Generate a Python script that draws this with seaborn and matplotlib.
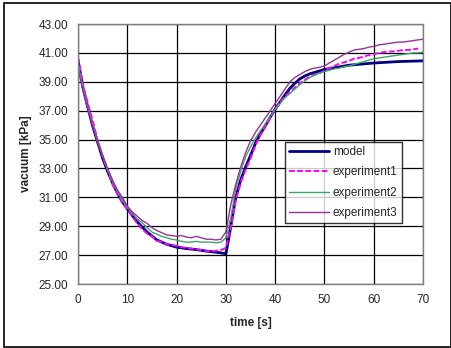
import numpy as np
import pandas as pd
import matplotlib
matplotlib.use('Agg')
import matplotlib.pyplot as plt
import seaborn as sns
from matplotlib.patches import Rectangle

###################################################################################
# Data

model_time = [0, 1, 2, 3, 4, 5, 6, 7, 8, 9,
              10, 12, 14, 16, 18, 20, 22, 24, 26, 28, 30,
              30.5, 31,
              32, 33, 34, 35, 36, 37, 38, 39, 40, 41, 42, 43, 44, 45, 46, 47, 48,
              50, 52, 55, 60, 65, 70]
model_vac = [40.5, 38.6, 37.2, 35.9, 34.8, 33.7, 32.8, 32.0, 31.3, 30.7,
             30.2, 29.3, 28.6, 28.05, 27.75, 27.55, 27.45, 27.38, 27.28, 27.2, 27.1,
             28.0, 29.0,
             31.0, 32.2, 33.1, 33.9, 34.75, 35.4, 35.95, 36.55, 37.1, 37.6, 38.1,
             38.55, 38.9, 39.2, 39.4, 39.55, 39.65,
             39.85, 39.97, 40.15, 40.3, 40.4, 40.45]

exp1_time = list(range(0, 70))
exp1_vac = [40.7, 38.8, 37.5, 36.3, 34.9, 33.8, 32.9, 31.9, 31.2, 30.6,
            30.2, 29.7, 29.2, 28.8, 28.5, 28.3, 28.0, 27.9, 27.75, 27.7,
            27.65, 27.55, 27.5, 27.45, 27.4, 27.35, 27.3, 27.25, 27.3, 27.35,
            27.5, 28.9, 30.8, 32.0, 32.9, 33.7, 34.6, 35.3, 35.9, 36.5,
            37.1, 37.6, 38.0, 38.3, 38.6, 38.9, 39.15, 39.35, 39.5, 39.6,
            39.75, 39.95, 40.1, 40.25, 40.35, 40.45, 40.6, 40.65, 40.75, 40.85,
            40.9, 41.0, 41.05, 41.1, 41.1, 41.15, 41.2, 41.2, 41.25, 41.3]

exp2_time = list(range(0, 71))
exp2_vac = [40.2, 38.6, 37.2, 36.0, 34.9, 33.9, 32.9, 32.1, 31.4, 30.8,
            30.3, 29.9, 29.5, 29.25, 28.9, 28.6, 28.45, 28.3, 28.2, 28.1,
            28.05, 27.95, 27.9, 27.9, 27.95, 27.9, 27.9, 27.9, 27.85, 27.9,
            28.2, 29.6, 31.6, 32.8, 33.8, 34.5, 35.1, 35.6, 36.1, 36.6,
            37.1, 37.5, 37.9, 38.2, 38.5, 38.8, 39.05, 39.3, 39.45, 39.6,
            39.7, 39.8, 39.9, 39.95, 40.05, 40.1, 40.2, 40.3, 40.4, 40.5,
            40.6, 40.65, 40.7, 40.75, 40.8, 40.85, 40.9, 40.95, 41.0, 41.0,
            41.05]

exp3_time = list(range(0, 71))
exp3_vac = [39.9, 38.4, 37.1, 35.9, 34.8, 33.9, 33.0, 32.2, 31.5, 31.0,
            30.4, 30.0, 29.7, 29.4, 29.2, 28.9, 28.7, 28.55, 28.4, 28.35,
            28.3, 28.35, 28.25, 28.2, 28.3, 28.2, 28.1, 28.1, 28.05, 28.1,
            28.6, 30.5, 31.9, 33.1, 34.1, 34.9, 35.5, 36.0, 36.5, 37.0,
            37.5, 38.0, 38.5, 39.0, 39.3, 39.5, 39.7, 39.85, 39.95, 40.0,
            40.1, 40.3, 40.5, 40.7, 40.9, 41.05, 41.2, 41.25, 41.3, 41.4,
            41.45, 41.55, 41.6, 41.65, 41.7, 41.75, 41.75, 41.8, 41.85, 41.9,
            41.95]

x_ticks = [0, 10, 20, 30, 40, 50, 60, 70]
y_ticks = [25, 27, 29, 31, 33, 35, 37, 39, 41, 43]

###################################################################################
# Plot

sns.set_style('white')
plt.rcParams['font.family'] = ['Liberation Sans', 'DejaVu Sans']

fig = plt.figure(figsize=(4.52, 3.48), dpi=100)
ax = fig.add_axes([0.1726, 0.1839, 0.7633, 0.7471])

sns.lineplot(x=model_time, y=model_vac, ax=ax, color='#000080', lw=2.0,
             label='model', estimator=None)
sns.lineplot(x=exp1_time, y=exp1_vac, ax=ax, color='#FF00FF', lw=1.4,
             linestyle=(0, (3, 1.2)), label='experiment1', estimator=None)
sns.lineplot(x=exp2_time, y=exp2_vac, ax=ax, color='#3CA56A', lw=1.0,
             label='experiment2', estimator=None)
sns.lineplot(x=exp3_time, y=exp3_vac, ax=ax, color='#993399', lw=1.0,
             label='experiment3', estimator=None)

ax.set_xlim(0, 70)
ax.set_ylim(25, 43)
ax.set_xticks(x_ticks)
ax.set_yticks(y_ticks)
ax.set_yticklabels(['%.2f' % v for v in y_ticks])
ax.grid(True, color='black', lw=0.9)
ax.set_axisbelow(True)
for s in ax.spines.values():
    s.set_color('#808080')
    s.set_linewidth(1.0)
ax.tick_params(direction='out', length=4, width=1, color='#808080',
               labelsize=8.5, pad=3)
ax.set_xlabel('time [s]', fontsize=8.5, fontweight='bold', labelpad=8)
ax.set_ylabel('vacuum [kPa]', fontsize=8.5, fontweight='bold', labelpad=5)

leg = ax.legend(loc='upper left', bbox_to_anchor=(0.6, 0.548), fontsize=8.5,
                frameon=True, fancybox=False, edgecolor='black',
                handlelength=3.4, handletextpad=0.3, labelspacing=0.72,
                borderpad=0.35, borderaxespad=0)
leg.get_frame().set_linewidth(1.0)

fig.patches.append(Rectangle((4 / 452, 1 - 346.5 / 348), 447 / 452, 343.5 / 348,
                             transform=fig.transFigure, fill=False,
                             edgecolor='black', lw=1.2))

fig.savefig('out.png', dpi=100)
